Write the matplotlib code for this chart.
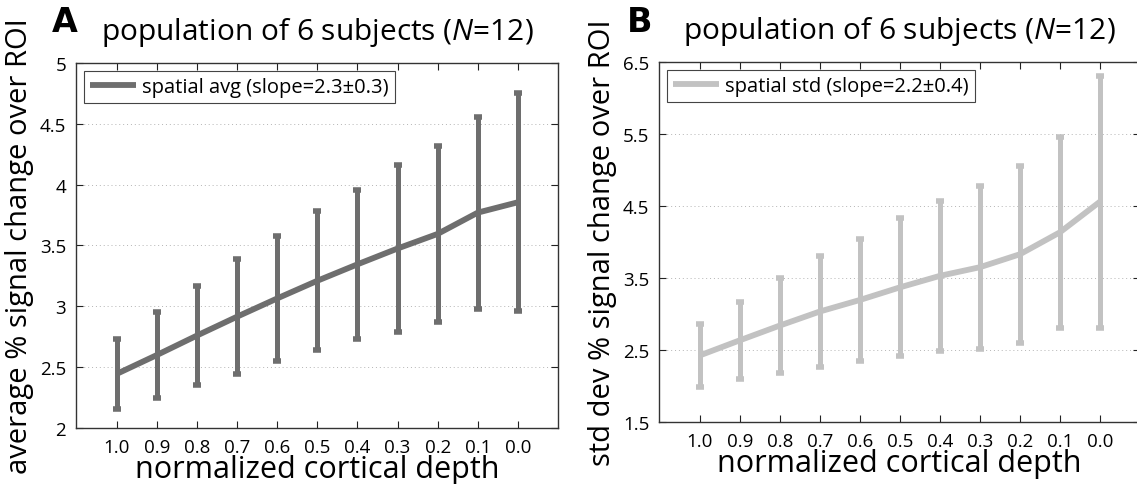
import matplotlib
matplotlib.use("Agg")
import matplotlib.pyplot as plt
import numpy as np

plt.rcParams["font.family"] = ["Open Sans", "DejaVu Sans"]
plt.rcParams["mathtext.fontset"] = "custom"
plt.rcParams["mathtext.rm"] = "Open Sans"
plt.rcParams["mathtext.it"] = "Open Sans:italic"

depth_labels = ["1.0", "0.9", "0.8", "0.7", "0.6", "0.5", "0.4", "0.3", "0.2", "0.1", "0.0"]

# panel A: spatial average
avg_mean = [2.445, 2.60, 2.76, 2.915, 3.065, 3.21, 3.345, 3.475, 3.595, 3.77, 3.855]
avg_err = [0.285, 0.35, 0.41, 0.475, 0.515, 0.57, 0.615, 0.685, 0.725, 0.79, 0.895]

# panel B: spatial std
std_mean = [2.425, 2.635, 2.84, 3.035, 3.195, 3.37, 3.53, 3.65, 3.83, 4.135, 4.56]
std_err = [0.435, 0.535, 0.66, 0.775, 0.845, 0.96, 1.04, 1.13, 1.23, 1.325, 1.75]

avg_ticks = [2, 2.5, 3, 3.5, 4, 4.5, 5]
avg_ticklabels = ["2", "2.5", "3", "3.5", "4", "4.5", "5"]
std_ticks = [1.5, 2.5, 3.5, 4.5, 5.5, 6.5]
std_ticklabels = ["1.5", "2.5", "3.5", "4.5", "5.5", "6.5"]

fig = plt.figure(figsize=(11.37, 4.85), dpi=100)
axA = fig.add_axes([0.0668, 0.1155, 0.4239, 0.7526])
axB = fig.add_axes([0.5796, 0.1278, 0.4230, 0.7423])

panels = [
    (axA, avg_mean, avg_err, "#6e6e6e", "spatial avg (slope=2.3\u00b10.3)",
     "average % signal change over ROI", (2, 5), avg_ticks, avg_ticklabels, "A"),
    (axB, std_mean, std_err, "#c2c2c2", "spatial std (slope=2.2\u00b10.4)",
     "std dev % signal change over ROI", (1.5, 6.5), std_ticks, std_ticklabels, "B"),
]

x = np.arange(len(depth_labels))
for ax, mean, err, color, label, ylabel, ylim, yt, ytl, letter in panels:
    ax.errorbar(x, mean, yerr=err, fmt="none", ecolor=color, elinewidth=3.6,
                capsize=3, capthick=4, zorder=2)
    ax.plot(x, mean, color=color, lw=4.2, label=label, zorder=3,
            solid_capstyle="butt")
    ax.set_xlim(-1.02, 11)
    ax.set_ylim(*ylim)
    ax.set_xticks(x)
    ax.set_xticklabels(depth_labels, fontsize=13.5)
    ax.set_yticks(yt)
    ax.set_yticklabels(ytl, fontsize=13.5)
    ax.tick_params(direction="in", length=5, width=0.8, top=True, right=True,
                   pad=7, colors="#222222", labelcolor="black")
    ax.yaxis.grid(True, linestyle=(0, (1, 3)), color="#b4b4b4", lw=0.7)
    for sp in ax.spines.values():
        sp.set_linewidth(1.0)
        sp.set_color("#333333")
    ax.set_xlabel("normalized cortical depth", fontsize=22, labelpad=-1)
    ax.set_ylabel(ylabel, fontsize=21, labelpad=4)
    ax.set_title("population of 6 subjects ($\\it{N}$=12)", fontsize=21.5, pad=17)
    leg = ax.legend(loc="upper left", fontsize=14.5, handlelength=2.3,
                    handletextpad=0.3, borderpad=0.3, fancybox=False,
                    framealpha=1, borderaxespad=0.4)
    leg.get_frame().set_edgecolor("#444444")
    leg.get_frame().set_linewidth(0.8)

fig.text(65 / 1137, 1 - 22 / 485, "A", fontsize=24, fontweight="bold",
         ha="center", va="center", family="DejaVu Sans")
fig.text(640 / 1137, 1 - 22 / 485, "B", fontsize=24, fontweight="bold",
         ha="center", va="center", family="DejaVu Sans")

fig.savefig("out.png", dpi=100)
